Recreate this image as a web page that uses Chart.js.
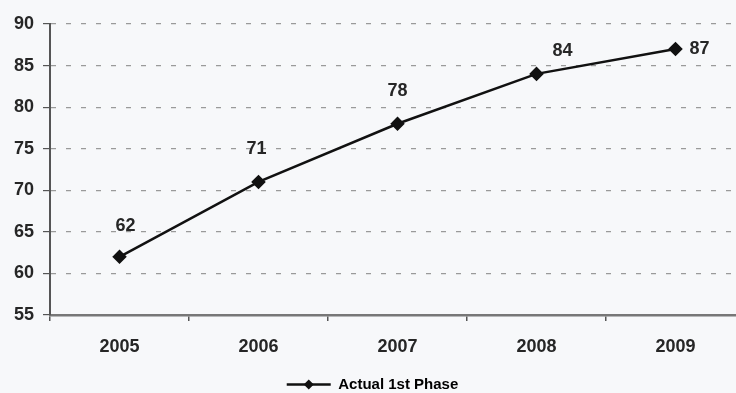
<!DOCTYPE html>
<html><head><meta charset="utf-8">
<script src="https://cdn.jsdelivr.net/npm/chart.js@4"></script>
<style>
html,body{margin:0;padding:0;background:#f7f8fa;overflow:hidden;}
#wrap{width:770px;height:402px;position:relative;}
</style></head><body>
<div id="wrap"><canvas id="c"></canvas></div>
<script>
const categories = ['2005','2006','2007','2008','2009'];
const actualFirstPhase = [62, 71, 78, 84, 87];
const seriesName = 'Actual 1st Phase';
const yMin = 55, yMax = 90, yStep = 5;

// label placement offsets (style only)
const labelOffsets = [[6,-31],[-2,-33],[0,-33],[26,-23],[24,0]];
const FONT = '"Liberation Sans", Arial, sans-serif';

function drawDiamond(ctx, x, y, r) {
  ctx.beginPath();
  ctx.moveTo(x, y - r); ctx.lineTo(x + r, y); ctx.lineTo(x, y + r); ctx.lineTo(x - r, y);
  ctx.closePath(); ctx.fill();
}

const labelPlugin = {
  id: 'valLabels',
  afterDatasetsDraw(chart) {
    const ctx = chart.ctx;
    const meta = chart.getDatasetMeta(0);
    ctx.save();
    ctx.font = 'bold 18px ' + FONT;
    ctx.fillStyle = '#262626';
    ctx.textAlign = 'center';
    ctx.textBaseline = 'middle';
    meta.data.forEach((pt, i) => {
      const o = labelOffsets[i];
      ctx.fillText(String(actualFirstPhase[i]), pt.x + o[0], pt.y + o[1]);
    });
    ctx.restore();
  },
  afterDraw(chart) {
    const lg = chart.legend;
    if (!lg || !lg.legendHitBoxes || !lg.legendHitBoxes[0]) return;
    const hb = lg.legendHitBoxes[0];
    const bw = lg.options.labels.boxWidth;
    const ctx = chart.ctx;
    ctx.save();
    ctx.fillStyle = '#111';
    drawDiamond(ctx, hb.left + bw / 2, hb.top + hb.height / 2, 5);
    ctx.restore();
  }
};

new Chart(document.getElementById('c'), {
  type: 'line',
  data: {
    labels: categories,
    datasets: [{
      label: seriesName,
      data: actualFirstPhase,
      borderColor: '#111',
      backgroundColor: '#111',
      borderWidth: 2.5,
      pointStyle: 'rectRot',
      pointRadius: 5.5,
      pointHoverRadius: 5.5,
      tension: 0,
      fill: false
    }]
  },
  options: {
    responsive: true,
    maintainAspectRatio: false,
    animation: false,
    layout: { padding: { top: 24, right: 25, left: 0, bottom: 0 } },
    plugins: {
      tooltip: { enabled: false },
      legend: {
        position: 'bottom',
        labels: {
          boxWidth: 44,
          boxHeight: 0,
          color: '#262626',
          font: { family: FONT, size: 15, weight: 'bold' },
          padding: 2,
          generateLabels(chart) {
            return [{ text: seriesName, fillStyle: '#111', strokeStyle: '#111', lineWidth: 2.5, datasetIndex: 0 }];
          }
        }
      }
    },
    scales: {
      x: {
        offset: true,
        afterFit(scale) { scale.height = 60; },
        border: { display: true, color: '#777', width: 2.5 },
        grid: { display: true, drawOnChartArea: false, drawTicks: true, tickLength: 6, offset: true, color: '#555', lineWidth: 1.5 },
        ticks: { color: '#262626', font: { family: FONT, size: 18, weight: 'bold' }, padding: 15 }
      },
      y: {
        min: yMin, max: yMax,
        afterFit(scale) { scale.width = 50; },
        border: { display: true, color: '#555', width: 2, dash: [5, 10] },
        grid: { color: '#9a9a9a', lineWidth: 1.2, tickLength: 7, tickColor: '#555', tickBorderDash: [] },
        ticks: { stepSize: yStep, color: '#262626', font: { family: FONT, size: 18, weight: 'bold' }, padding: 9 }
      }
    }
  },
  plugins: [labelPlugin]
});
</script>
</body></html>
